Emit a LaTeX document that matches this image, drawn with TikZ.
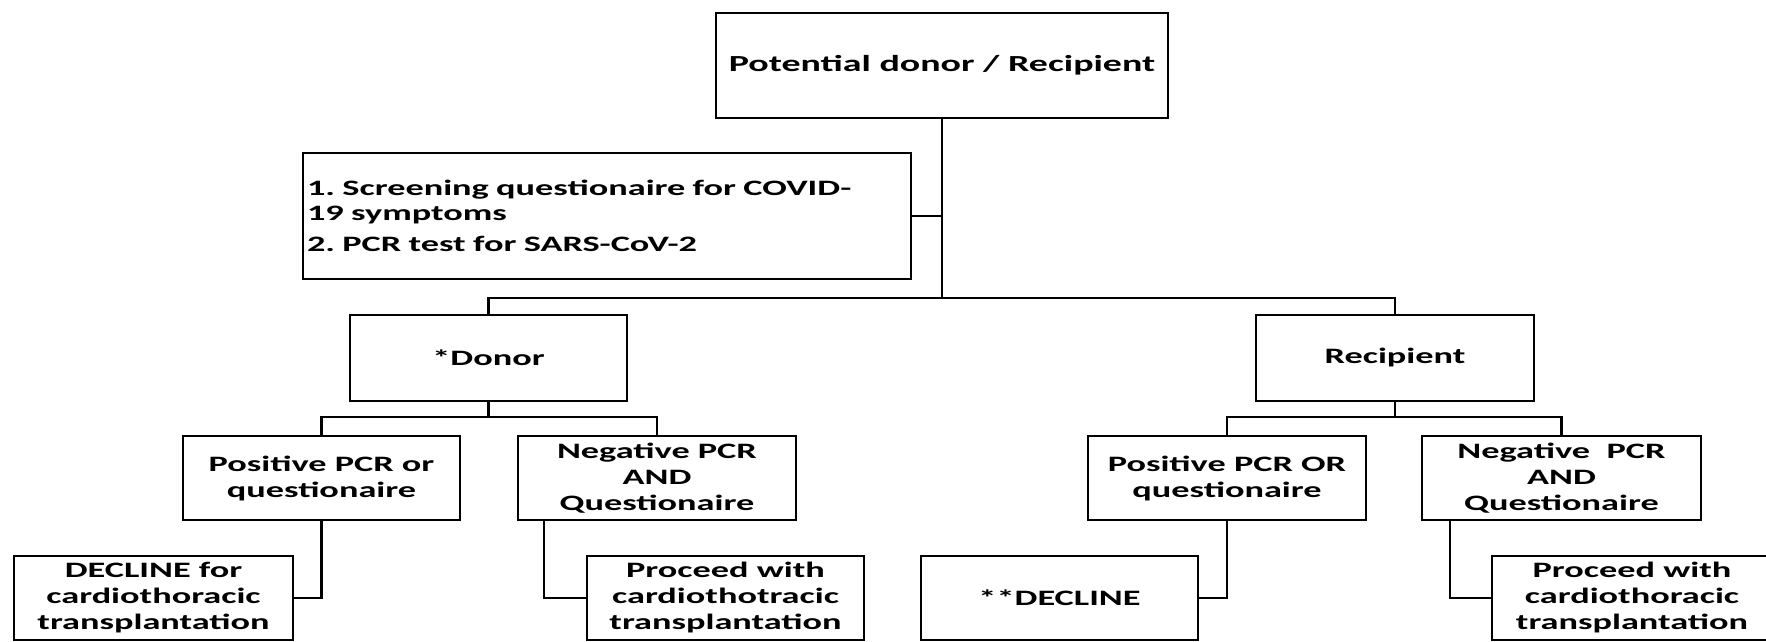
\documentclass[tikz,border=0pt]{standalone}
\usepackage{fontspec}
\newfontfamily\calfont[FakeStretch=1.65]{Carlito}
\frenchspacing
\tikzset{
  box/.style={draw, line width=2.2pt, inner sep=0pt, align=center,
    font=\calfont\bfseries\fontsize{22}{26}\selectfont},
  conn/.style={line width=2.2pt},
}
\begin{document}
\begin{tikzpicture}[x=1pt,y=-1pt]
\useasboundingbox (0,0) rectangle (1766,642);
\clip (0,0) rectangle (1766,642);
\fill[white] (0,0) rectangle (1766,642);

\coordinate (lvl1) at (0,298);
\coordinate (lvl2) at (0,417);

\node[box, minimum width=452, minimum height=105,
  font=\calfont\bfseries\fontsize{23}{28}\selectfont] (top) at (942,65.5) {Potential donor / Recipient};
\node[box, minimum width=608, minimum height=126, text width=600, align=left,
  font=\calfont\bfseries\fontsize{22}{25}\selectfont] (scr) at (607,216)
  {1. Screening questionaire for COVID-\\19 symptoms\\[6pt]2. PCR test for SARS-CoV-2};

\node[box, minimum width=277, minimum height=86] (donor) at (488.5,358) {*Donor};
\node[box, minimum width=278, minimum height=86] (recip) at (1395,358) {Recipient};

\node[box, minimum width=277, minimum height=84] (dpos) at (321.5,478) {Positive PCR or\\questionaire};
\node[box, minimum width=278, minimum height=84] (dneg) at (657,478) {Negative PCR\\AND\\Questionaire};
\node[box, minimum width=278, minimum height=84] (rpos) at (1227,478) {Positive PCR OR\\questionaire};
\node[box, minimum width=279, minimum height=84] (rneg) at (1561.5,478) {Negative\ \ PCR\\AND\\Questionaire};

\node[box, minimum width=279, minimum height=84] (ddec) at (153.5,598) {DECLINE for\\cardiothoracic\\transplantation};
\node[box, minimum width=277, minimum height=84] (dpro) at (725.5,598) {Proceed with\\cardiothotracic\\transplantation};
\node[box, minimum width=277, minimum height=84] (rdec) at (1059.5,598) {**DECLINE};
\node[box, minimum width=280, minimum height=84] (rpro) at (1632,598) {Proceed with\\cardiothoracic\\transplantation};

\draw[conn] (top.south) -- (top.south |- lvl1);
\draw[conn] (scr.east) -- (scr.east -| top.south);
\draw[conn] (donor.north) -- (donor.north |- lvl1) -- (recip.north |- lvl1) -- (recip.north);

\draw[conn] (donor.south) -- (donor.south |- lvl2);
\draw[conn] (dpos.north) -- (dpos.north |- lvl2) -- (dneg.north |- lvl2) -- (dneg.north);
\draw[conn] (recip.south) -- (recip.south |- lvl2);
\draw[conn] (rpos.north) -- (rpos.north |- lvl2) -- (rneg.north |- lvl2) -- (rneg.north);

\draw[conn] (dpos.south) |- (ddec.east);
\draw[conn] ([xshift=27pt]dneg.south west) |- (dpro.west);
\draw[conn] (rpos.south) |- (rdec.east);
\draw[conn] ([xshift=29pt]rneg.south west) |- (rpro.west);
\end{tikzpicture}
\end{document}
